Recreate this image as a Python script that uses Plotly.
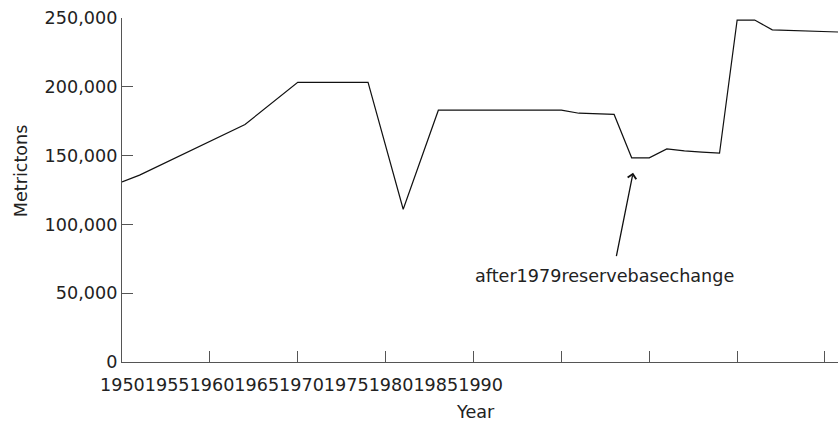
import plotly.graph_objects as go

# Data
years = [1950, 1951, 1957, 1960, 1964, 1966, 1968, 1975, 1976, 1978, 1979, 1980,
         1981, 1982, 1983, 1984, 1985, 1986, 1987, 1991]
values = [130900, 135800, 172600, 203200, 203200, 111000, 183000, 183000, 180800,
          179900, 148400, 148400, 154900, 153400, 152500, 151800, 248500, 248500,
          241400, 239700]

x_tick_vals = [1950, 1955, 1960, 1965, 1970, 1975, 1980, 1985, 1990]
x_tick_labels = ["1950", "1955", "1960", "1965", "1970", "1975", "1980", "1985", "1990"]
y_tick_vals = [0, 50000, 100000, 150000, 200000, 250000]

note_text = "after1979reservebasechange"
note_year = 1979
note_value = 148400

FONT = "DejaVu Sans"
FS = 17.6
TXT = "#222"
AX = "#555"

fig = go.Figure()
fig.add_trace(go.Scatter(x=years, y=values, mode="lines",
                         line=dict(color="#111", width=1.2), hoverinfo="skip"))

fig.update_layout(
    width=838, height=425,
    margin=dict(l=122, r=0, t=18, b=63),
    paper_bgcolor="white", plot_bgcolor="white",
    showlegend=False,
    font=dict(family=FONT, size=FS, color=TXT),
)
fig.update_xaxes(range=[1950, 1990.74], showgrid=False, zeroline=False,
                 showline=True, linecolor=AX, linewidth=1.2,
                 tickvals=x_tick_vals, ticks="inside", ticklen=11, tickcolor=AX,
                 tickwidth=1.2, showticklabels=False)
fig.update_yaxes(range=[0, 250000], showgrid=False, zeroline=False,
                 showline=True, linecolor=AX, linewidth=1.2,
                 tickvals=y_tick_vals, tickformat=",", ticks="inside", ticklen=11,
                 tickcolor=AX, tickwidth=1.2,
                 tickfont=dict(family=FONT, size=FS, color=TXT))

# concatenated x tick labels, as in the reference
fig.add_annotation(text="".join(x_tick_labels), xref="paper", yref="paper",
                   x=-0.033, y=-0.0669, xanchor="left", yanchor="middle",
                   showarrow=False, font=dict(family=FONT, size=FS, color=TXT))
# axis titles
fig.add_annotation(text="Year", xref="paper", yref="paper", x=0.4944, y=-0.1445,
                   xanchor="center", yanchor="middle", showarrow=False,
                   font=dict(family=FONT, size=FS, color=TXT))
fig.add_annotation(text="Metrictons", xref="paper", yref="paper", x=-0.14, y=0.5567,
                   xanchor="center", yanchor="middle", textangle=-90, showarrow=False,
                   font=dict(family=FONT, size=FS, color=TXT))
# note arrow and text
fig.add_annotation(text="", x=note_year + 0.08, y=note_value - 10800,
                   ax=-17, ay=85, axref="pixel", ayref="pixel",
                   showarrow=True, arrowhead=4, arrowsize=1.3, arrowwidth=1.3,
                   arrowcolor="#111", standoff=0)
fig.add_annotation(text=note_text, x=1977.45, y=62550, xanchor="center",
                   yanchor="middle", showarrow=False,
                   font=dict(family=FONT, size=FS, color=TXT))

fig.write_html("out.html", config={"displayModeBar": False},
               post_script="document.body.style.margin='0';document.body.style.overflow='hidden';")
